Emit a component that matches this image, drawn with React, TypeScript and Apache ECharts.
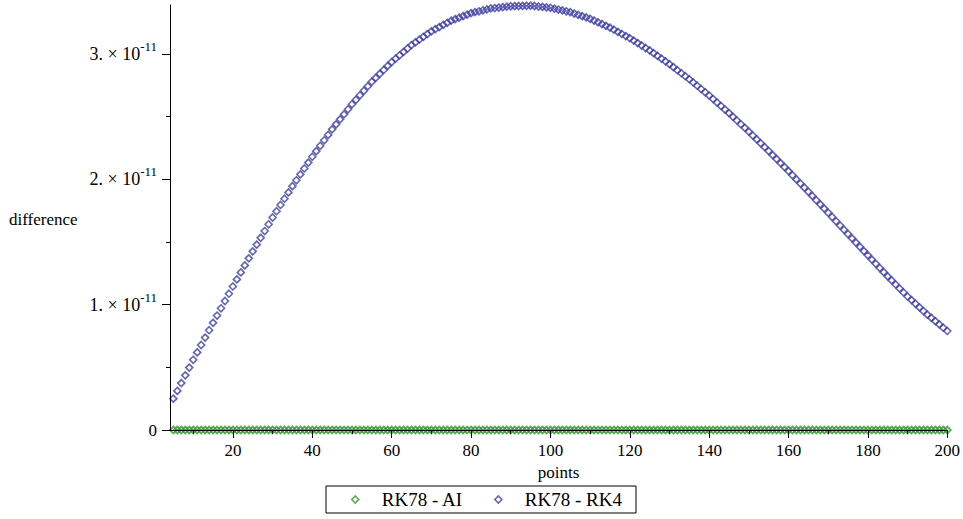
import { useEffect, useRef } from 'react';
import * as echarts from 'echarts';

// x positions of the points
const pointsX = [
  5, 6, 7, 8, 9, 10, 11, 12, 13, 14, 15, 16, 17, 18, 19, 20, 21, 22, 23, 24,
  25, 26, 27, 28, 29, 30, 31, 32, 33, 34, 35, 36, 37, 38, 39, 40, 41, 42, 43, 44,
  45, 46, 47, 48, 49, 50, 51, 52, 53, 54, 55, 56, 57, 58, 59, 60, 61, 62, 63, 64,
  65, 66, 67, 68, 69, 70, 71, 72, 73, 74, 75, 76, 77, 78, 79, 80, 81, 82, 83, 84,
  85, 86, 87, 88, 89, 90, 91, 92, 93, 94, 95, 96, 97, 98, 99, 100, 101, 102, 103, 104,
  105, 106, 107, 108, 109, 110, 111, 112, 113, 114, 115, 116, 117, 118, 119, 120, 121, 122, 123, 124,
  125, 126, 127, 128, 129, 130, 131, 132, 133, 134, 135, 136, 137, 138, 139, 140, 141, 142, 143, 144,
  145, 146, 147, 148, 149, 150, 151, 152, 153, 154, 155, 156, 157, 158, 159, 160, 161, 162, 163, 164,
  165, 166, 167, 168, 169, 170, 171, 172, 173, 174, 175, 176, 177, 178, 179, 180, 181, 182, 183, 184,
  185, 186, 187, 188, 189, 190, 191, 192, 193, 194, 195, 196, 197, 198, 199, 200,
];

// RK78 - AI (essentially zero on this scale), units of 1e-11
const rk78MinusAI = [
  0, 0, 0, 0, 0, 0, 0, 0, 0, 0, 0, 0, 0, 0, 0, 0, 0, 0, 0, 0,
  0, 0, 0, 0, 0, 0, 0, 0, 0, 0, 0, 0, 0, 0, 0, 0, 0, 0, 0, 0,
  0, 0, 0, 0, 0, 0, 0, 0, 0, 0, 0, 0, 0, 0, 0, 0, 0, 0, 0, 0,
  0, 0, 0, 0, 0, 0, 0, 0, 0, 0, 0, 0, 0, 0, 0, 0, 0, 0, 0, 0,
  0, 0, 0, 0, 0, 0, 0, 0, 0, 0, 0, 0, 0, 0, 0, 0, 0, 0, 0, 0,
  0, 0, 0, 0, 0, 0, 0, 0, 0, 0, 0, 0, 0, 0, 0, 0, 0, 0, 0, 0,
  0, 0, 0, 0, 0, 0, 0, 0, 0, 0, 0, 0, 0, 0, 0, 0, 0, 0, 0, 0,
  0, 0, 0, 0, 0, 0, 0, 0, 0, 0, 0, 0, 0, 0, 0, 0, 0, 0, 0, 0,
  0, 0, 0, 0, 0, 0, 0, 0, 0, 0, 0, 0, 0, 0, 0, 0, 0, 0, 0, 0,
  0, 0, 0, 0, 0, 0, 0, 0, 0, 0, 0, 0, 0, 0, 0, 0,
];

// RK78 - RK4, units of 1e-11
const rk78MinusRK4 = [
  0.250, 0.312, 0.374, 0.436, 0.498, 0.560, 0.619, 0.678, 0.737, 0.796,
  0.855, 0.913, 0.971, 1.029, 1.087, 1.145, 1.201, 1.257, 1.313, 1.369,
  1.425, 1.479, 1.533, 1.587, 1.641, 1.695, 1.745, 1.795, 1.845, 1.895,
  1.945, 1.992, 2.039, 2.086, 2.133, 2.180, 2.224, 2.267, 2.311, 2.354,
  2.398, 2.438, 2.478, 2.518, 2.558, 2.598, 2.634, 2.670, 2.706, 2.742,
  2.778, 2.809, 2.841, 2.872, 2.904, 2.935, 2.962, 2.989, 3.016, 3.043,
  3.070, 3.092, 3.114, 3.136, 3.158, 3.180, 3.197, 3.214, 3.231, 3.248,
  3.265, 3.277, 3.289, 3.301, 3.313, 3.325, 3.333, 3.340, 3.348, 3.355,
  3.363, 3.366, 3.370, 3.373, 3.377, 3.380, 3.381, 3.382, 3.383, 3.384,
  3.385, 3.382, 3.378, 3.375, 3.371, 3.368, 3.361, 3.354, 3.347, 3.340,
  3.333, 3.322, 3.312, 3.301, 3.291, 3.280, 3.266, 3.252, 3.238, 3.224,
  3.210, 3.193, 3.176, 3.159, 3.142, 3.125, 3.106, 3.086, 3.067, 3.047,
  3.028, 3.006, 2.984, 2.962, 2.940, 2.918, 2.894, 2.870, 2.846, 2.822,
  2.798, 2.772, 2.746, 2.720, 2.694, 2.668, 2.640, 2.612, 2.584, 2.556,
  2.528, 2.498, 2.469, 2.439, 2.410, 2.380, 2.349, 2.318, 2.287, 2.256,
  2.225, 2.193, 2.161, 2.129, 2.097, 2.065, 2.032, 1.999, 1.966, 1.933,
  1.900, 1.867, 1.833, 1.800, 1.766, 1.733, 1.699, 1.665, 1.631, 1.597,
  1.563, 1.529, 1.495, 1.461, 1.427, 1.393, 1.359, 1.326, 1.292, 1.259,
  1.225, 1.193, 1.161, 1.129, 1.097, 1.065, 1.036, 1.007, 0.978, 0.949,
  0.920, 0.894, 0.868, 0.842, 0.816, 0.790,
];

const Y_UNIT = 1e-11;
const xMajorTicks = [20, 40, 60, 80, 100, 120, 140, 160, 180, 200];
const xMinorTicks = [10, 30, 50, 70, 90, 110, 130, 150, 170, 190];
const yMajorTicks = [0, 1, 2, 3];
const yMinorTicks = [0.5, 1.5, 2.5];
const seriesNames = ['RK78 - AI', 'RK78 - RK4'];

const GREEN = '#2f962f';
const BLUE = '#3c3ca2';
const FONT = 'Liberation Serif';

export default function App() {
  const ref = useRef<HTMLDivElement>(null);

  useEffect(() => {
    if (!ref.current) return;
    const chart = echarts.init(ref.current, undefined, { renderer: 'svg' });

    const toPairs = (vals: number[]) => vals.map((v, i) => [pointsX[i], v * Y_UNIT]);
    const X_MIN = 4.15;
    const X_MAX = 200;
    const Y_MAX = 3.39 * Y_UNIT;

    chart.setOption({
      animation: false,
      backgroundColor: '#fff',
      textStyle: { fontFamily: FONT },
      grid: { left: 170, right: 15, top: 5, bottom: 89, containLabel: false },
      legend: {
        left: 326,
        top: 486,
        orient: 'horizontal',
        borderColor: '#000',
        borderWidth: 1,
        padding: [4, 14, 4, 25],
        itemWidth: 7,
        itemHeight: 7,
        itemGap: 31,
        formatter: (name: string) => `{g|}{t|${name}}`,
        textStyle: {
          fontFamily: FONT,
          fontSize: 19,
          color: '#000',
          lineHeight: 19,
          rich: {
            g: { width: 18, height: 19 },
            t: { fontFamily: FONT, fontSize: 19, color: '#000', lineHeight: 19 },
          },
        },
        data: [
          { name: seriesNames[0], icon: 'diamond', itemStyle: { color: 'rgba(0,0,0,0)', borderColor: GREEN, borderWidth: 1.6 } },
          { name: seriesNames[1], icon: 'diamond', itemStyle: { color: 'rgba(0,0,0,0)', borderColor: BLUE, borderWidth: 1.6 } },
        ],
      },
      xAxis: [
        {
          type: 'value',
          min: X_MIN,
          max: X_MAX,
          position: 'bottom',
          z: 5,
          axisLine: { show: true, onZero: false, lineStyle: { color: '#000', width: 1 } },
          axisTick: { show: true, customValues: xMajorTicks, length: 8, lineStyle: { color: '#000' } },
          axisLabel: { show: true, customValues: xMajorTicks, margin: 12, fontSize: 17, color: '#000', fontFamily: FONT },
          splitLine: { show: false },
          name: 'points',
          nameLocation: 'middle',
          nameGap: 29,
          nameTextStyle: { fontFamily: FONT, fontSize: 17, color: '#000' },
        },
        {
          type: 'value',
          min: X_MIN,
          max: X_MAX,
          position: 'bottom',
          z: 5,
          axisLine: { show: false },
          axisTick: { show: true, customValues: xMinorTicks, length: 4, lineStyle: { color: '#000' } },
          axisLabel: { show: false },
          splitLine: { show: false },
        },
      ],
      yAxis: [
        {
          type: 'value',
          min: 0,
          max: Y_MAX,
          position: 'left',
          z: 5,
          axisLine: { show: true, onZero: false, lineStyle: { color: '#000', width: 1 } },
          axisTick: { show: true, customValues: yMajorTicks.map((v) => v * Y_UNIT), length: 8, lineStyle: { color: '#000' } },
          axisLabel: {
            show: true,
            customValues: yMajorTicks.map((v) => v * Y_UNIT),
            margin: 13,
            fontSize: 17,
            color: '#000',
            fontFamily: FONT,
            formatter: (v: number) => {
              const n = Math.round(v / Y_UNIT);
              if (n === 0) return '0';
              return `{a|${n}. × 10}{b|-11}`;
            },
            rich: {
              a: { fontSize: 18, lineHeight: 28, verticalAlign: 'middle', color: '#000', fontFamily: FONT },
              b: { fontSize: 13, lineHeight: 14, verticalAlign: 'top', color: '#000', fontFamily: FONT },
            },
          },
          splitLine: { show: false },
        },
        {
          type: 'value',
          min: 0,
          max: Y_MAX,
          position: 'left',
          z: 5,
          axisLine: { show: false },
          axisTick: { show: true, customValues: yMinorTicks.map((v) => v * Y_UNIT), length: 4, lineStyle: { color: '#000' } },
          axisLabel: { show: false },
          splitLine: { show: false },
        },
      ],
      graphic: [
        {
          type: 'text',
          x: 9,
          y: 219,
          style: {
            text: 'difference',
            font: `17px ${FONT}`,
            fill: '#000',
            verticalAlign: 'middle',
          },
        },
      ],
      series: [
        {
          name: seriesNames[0],
          type: 'scatter',
          xAxisIndex: 0,
          yAxisIndex: 0,
          symbol: 'diamond',
          symbolSize: 7,
          itemStyle: { color: 'rgba(0,0,0,0)', borderColor: GREEN, borderWidth: 1.8 },
          data: toPairs(rk78MinusAI),
        },
        {
          name: seriesNames[1],
          type: 'scatter',
          xAxisIndex: 0,
          yAxisIndex: 0,
          symbol: 'diamond',
          symbolSize: 7,
          itemStyle: { color: 'rgba(0,0,0,0)', borderColor: BLUE, borderWidth: 1.6 },
          data: toPairs(rk78MinusRK4),
        },
      ],
    });

    return () => {
      chart.dispose();
    };
  }, []);

  return (
    <div
      ref={ref}
      style={{ position: 'fixed', left: 0, top: 0, width: 963, height: 519, background: '#fff' }}
    />
  );
}
